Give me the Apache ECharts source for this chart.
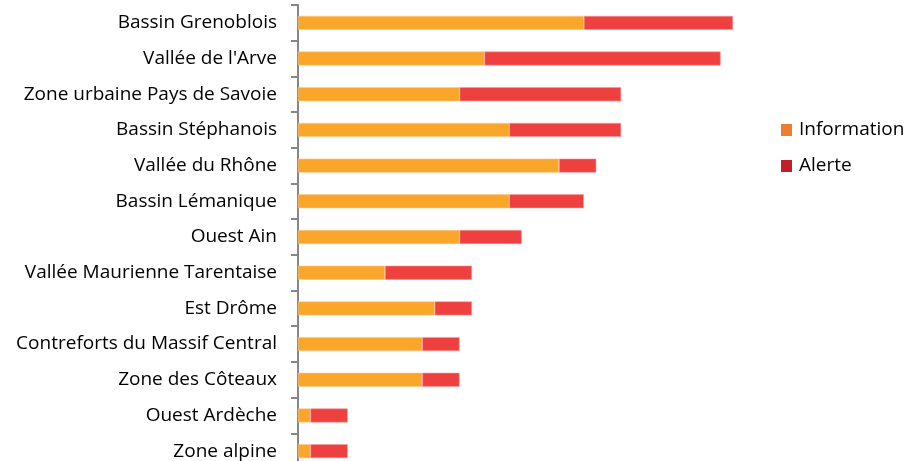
<!DOCTYPE html>
<html><head><meta charset="utf-8">
<script src="https://cdn.jsdelivr.net/npm/echarts@6/dist/echarts.min.js"></script>
<style>html,body{margin:0;padding:0;background:#fff}#c{width:908px;height:461px}</style>
</head><body><div id="c"></div>
<script>
const categories = ["Bassin Grenoblois","Vallée de l'Arve","Zone urbaine Pays de Savoie","Bassin Stéphanois","Vallée du Rhône","Bassin Lémanique","Ouest Ain","Vallée Maurienne Tarentaise","Est Drôme","Contreforts du Massif Central","Zone des Côteaux","Ouest Ardèche","Zone alpine"];
const information = [23,15,13,17,21,17,13,7,11,10,10,1,1];
const alerte = [12,19,13,9,3,6,5,7,3,3,3,3,3];
const seriesNames = ["Information","Alerte"];

const FONT = 'Open Sans';
const chart = echarts.init(document.getElementById('c'), null, {renderer:'canvas'});
chart.setOption({
  animation:false,
  grid:{left:298, top:5, width:435, height:464, outerBoundsMode:'none', containLabel:false},
  legend:{
    orient:'vertical', left:781, top:120, padding:0,
    itemWidth:11, itemHeight:12, itemGap:16, icon:'rect',
    textStyle:{fontFamily:FONT, fontSize:19, color:'#000', lineHeight:20, padding:[0,0,0,2]},
    data:[{name:seriesNames[0], itemStyle:{color:'#ED7D31', borderWidth:0}},{name:seriesNames[1], itemStyle:{color:'#C0202A', borderWidth:0}}]
  },
  xAxis:{type:'value', min:0, max:35, show:false},
  yAxis:{type:'category', data:categories, inverse:true,
    axisLine:{lineStyle:{color:'#868686', width:2}},
    axisTick:{show:true, length:7, lineStyle:{color:'#868686', width:2}},
    axisLabel:{fontFamily:FONT, fontSize:19, color:'#000', margin:21}
  },
  series:[
    {name:seriesNames[0], type:'bar', stack:'t', data:information, barWidth:14,
      itemStyle:{color:'#F9A62B', borderColor:'#FBCB8A', borderWidth:0.6}},
    {name:seriesNames[1], type:'bar', stack:'t', data:alerte, barWidth:14,
      itemStyle:{color:'#EF4040', borderColor:'#F59A9A', borderWidth:0.6}}
  ]
});
</script></body></html>
